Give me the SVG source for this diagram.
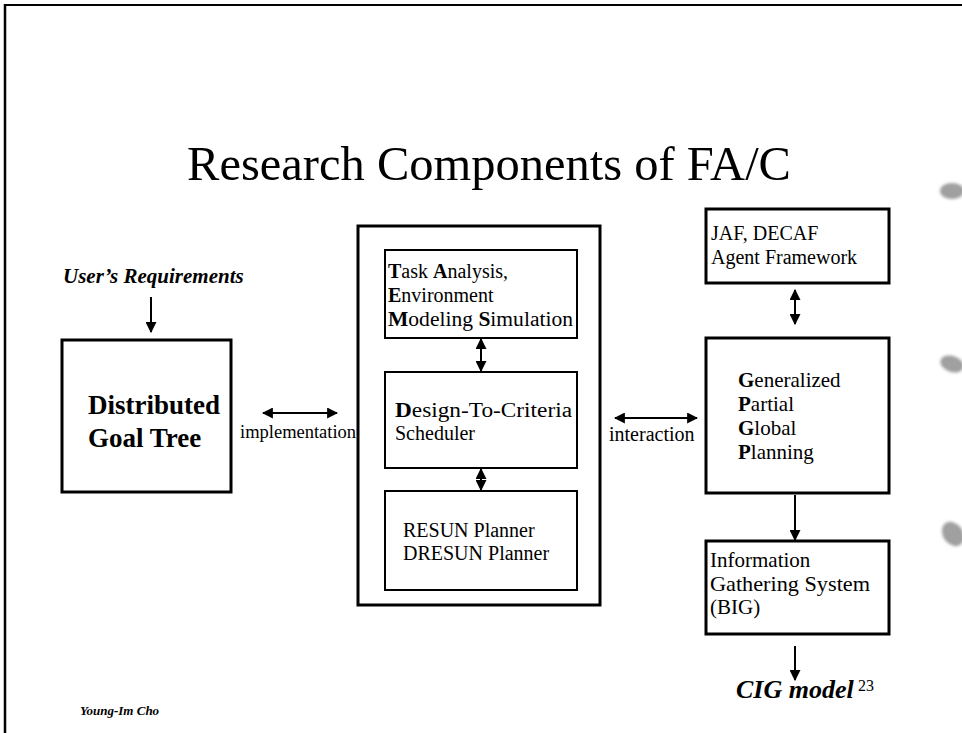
<svg xmlns="http://www.w3.org/2000/svg" width="962" height="733" viewBox="0 0 962 733">
  <style>
    text { font-family: "Liberation Serif", "Times New Roman", serif; fill: #000; }
    .body { font-size: 20px; }
    .body21 { font-size: 21px; }
    .b { font-weight: bold; }
    .bi { font-weight: bold; font-style: italic; }
    .box { fill: #fff; stroke: #000; stroke-width: 3; }
    .inner { fill: #fff; stroke: #000; stroke-width: 2; }
    .conn { stroke: #000; stroke-width: 2; fill: none; }
    .punch { fill: #777; opacity: 0.7; }
  </style>
  <defs>
    <marker id="head" viewBox="0 0 10 10" refX="9" refY="5" markerWidth="11" markerHeight="11" markerUnits="userSpaceOnUse" orient="auto-start-reverse">
      <path d="M0,0 L10,5 L0,10 z" fill="#000"/>
    </marker>
    <filter id="soft" x="-20%" y="-20%" width="140%" height="140%">
      <feGaussianBlur stdDeviation="1.5"/>
    </filter>
  </defs>

  <!-- page frame -->
  <g id="frame">
    <line x1="4" y1="5" x2="962" y2="5" stroke="#000" stroke-width="2"/>
    <line x1="5" y1="4" x2="5" y2="733" stroke="#000" stroke-width="2.5"/>
  </g>

  <!-- binder holes along the right margin -->
  <g id="holes" filter="url(#soft)">
    <ellipse class="punch" cx="952" cy="191" rx="12" ry="8"/>
    <ellipse class="punch" cx="952" cy="364" rx="12" ry="8" transform="rotate(20 952 364)"/>
    <ellipse class="punch" cx="953" cy="534" rx="10" ry="13" transform="rotate(-35 953 534)"/>
  </g>

  <text x="489" y="180" font-size="48.5" text-anchor="middle">Research Components of FA/C</text>

  <g id="users-requirements">
    <text class="bi" x="63" y="283" font-size="21">User’s Requirements</text>
  </g>

  <g id="goal-tree">
    <rect class="box" x="62" y="340" width="169" height="152"/>
    <text class="b" x="88" y="414" font-size="27">Distributed</text>
    <text class="b" x="88" y="447" font-size="27">Goal Tree</text>
  </g>

  <g id="framework-box">
    <rect class="box" x="358" y="226" width="242" height="379"/>
  </g>

  <g id="task-analysis">
    <rect class="inner" x="385" y="250" width="192" height="88"/>
    <text class="body" x="388" y="278"><tspan class="b">T</tspan>ask <tspan class="b">A</tspan>nalysis,</text>
    <text class="body" x="388" y="302"><tspan class="b">E</tspan>nvironment</text>
    <text class="body" x="388" y="326" textLength="185" lengthAdjust="spacingAndGlyphs"><tspan class="b">M</tspan>odeling <tspan class="b">S</tspan>imulation</text>
  </g>

  <g id="dtc-scheduler">
    <rect class="inner" x="385" y="372" width="192" height="96"/>
    <text class="body" x="395" y="417" textLength="177" lengthAdjust="spacingAndGlyphs"><tspan class="b">D</tspan>esign-To-Criteria</text>
    <text class="body" x="395" y="440">Scheduler</text>
  </g>

  <g id="resun-planner">
    <rect class="inner" x="385" y="491" width="192" height="99"/>
    <text class="body" x="403" y="537">RESUN Planner</text>
    <text class="body" x="403" y="560">DRESUN Planner</text>
  </g>

  <g id="agent-framework">
    <rect class="box" x="706" y="209" width="183" height="74"/>
    <text class="body" x="711" y="240">JAF, DECAF</text>
    <text class="body" x="711" y="264">Agent Framework</text>
  </g>

  <g id="gpgp">
    <rect class="box" x="706" y="338" width="183" height="155"/>
    <text class="body21" x="738" y="387"><tspan class="b">G</tspan>eneralized</text>
    <text class="body21" x="738" y="411"><tspan class="b">P</tspan>artial</text>
    <text class="body21" x="738" y="435"><tspan class="b">G</tspan>lobal</text>
    <text class="body21" x="738" y="459"><tspan class="b">P</tspan>lanning</text>
  </g>

  <g id="info-gathering">
    <rect class="box" x="706" y="541" width="183" height="93"/>
    <text class="body21" x="710" y="567">Information</text>
    <text class="body21" x="710" y="591" textLength="160" lengthAdjust="spacingAndGlyphs">Gathering System</text>
    <text class="body21" x="710" y="614">(BIG)</text>
  </g>

  <g id="cig-model">
    <text class="bi" x="736" y="698" font-size="26">CIG model</text>
  </g>

  <!-- connectors -->
  <g id="connectors">
    <line class="conn" x1="151" y1="297" x2="151" y2="332" marker-end="url(#head)"/>
    <line class="conn" x1="263" y1="413" x2="337" y2="413" marker-start="url(#head)" marker-end="url(#head)"/>
    <line class="conn" x1="481" y1="339" x2="481" y2="371" marker-start="url(#head)" marker-end="url(#head)"/>
    <line class="conn" x1="481" y1="469" x2="481" y2="490" marker-start="url(#head)" marker-end="url(#head)"/>
    <line class="conn" x1="615" y1="418" x2="697" y2="418" marker-start="url(#head)" marker-end="url(#head)"/>
    <line class="conn" x1="795" y1="290" x2="795" y2="324" marker-start="url(#head)" marker-end="url(#head)"/>
    <line class="conn" x1="795" y1="495" x2="795" y2="540" marker-end="url(#head)"/>
    <line class="conn" x1="795" y1="646" x2="795" y2="680" marker-end="url(#head)"/>
    <text x="240" y="438" font-size="18.5">implementation</text>
    <text x="609" y="441" font-size="20">interaction</text>
  </g>

  <text x="858" y="691" font-size="16">23</text>
  <text class="bi" x="80" y="715" font-size="13">Young-Im Cho</text>
</svg>
